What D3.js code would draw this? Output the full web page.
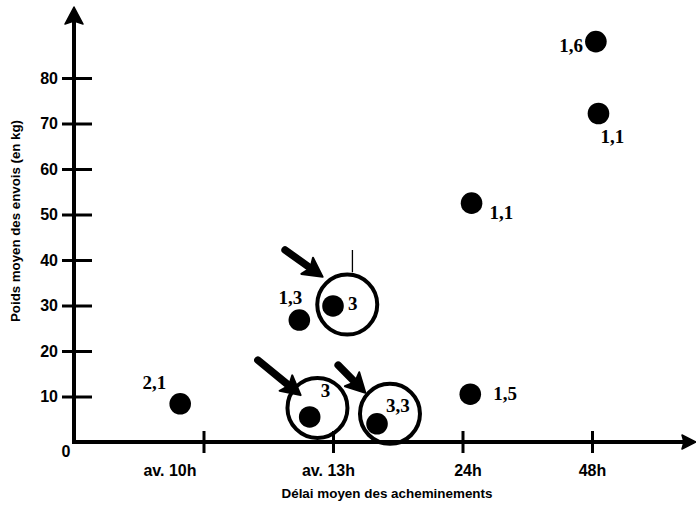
<!DOCTYPE html>
<html>
<head>
<meta charset="utf-8">
<script src="https://cdn.jsdelivr.net/npm/d3@7"></script>
<style>
html, body { margin: 0; padding: 0; background: #fff; }
svg { display: block; }
</style>
</head>
<body>
<svg id="chart" width="696" height="505"></svg>
<script>
// ---------------- DATA ----------------
const delayCategories = ["av. 10h", "av. 13h", "24h", "48h"];
const categoryIndex = [0, 1, 2, 3];
const yTickValues = [10, 20, 30, 40, 50, 60, 70, 80];

// points: position along delay axis (category index units) and mean weight (kg)
const pointDelay  = [-0.18, 0.74, 1.00, 0.82, 1.34, 2.06, 2.07, 3.05, 3.03];
const pointWeight = [8.4, 26.8, 29.9, 5.5, 4.0, 10.5, 52.5, 72.2, 88.0];
const pointLabels = ["2,1", "1,3", "3", "3", "3,3", "1,5", "1,1", "1,1", "1,6"];

// highlighted points: rings and arrows (data units)
const ringDelay  = [1.11, 0.88, 1.44];
const ringWeight = [30.2, 7.5, 6.2];
const arrowFromDelay  = [0.63, 0.42, 1.04];
const arrowFromWeight = [42.2, 18.0, 16.9];
const arrowToDelay    = [0.92, 0.75, 1.25];
const arrowToWeight   = [36.3, 10.3, 10.8];
const penMarkDelay  = [1.15];
const penMarkTop    = [42.2];
const penMarkBottom = [37.3];

const xTitle = "Délai moyen des acheminements";
const yTitle = "Poids moyen des envois (en kg)";

// ---------------- LAYOUT ----------------
const W = 696, H = 505;
const originX = 74, originY = 442;
const svg = d3.select("#chart");
svg.append("rect").attr("width", W).attr("height", H).attr("fill", "#fff");

const x = d3.scaleLinear().domain([-1, 3]).range([originX, 592]);
const y = d3.scaleLinear().domain([0, 80]).range([originY, 78]);

const ink = "#000";
const sansBold = "'Liberation Sans', Arial, sans-serif";
const serifBold = "'Liberation Serif', 'Times New Roman', serif";

// label placement relative to its dot: [dx, dy, anchor]
const labelPlacement = [
  [-14, -15, "end"],
  [-9, -16, "middle"],
  [15, 4, "start"],
  [11, -20, "start"],
  [9, -12, "start"],
  [23, 6, "start"],
  [18, 16, "start"],
  [2, 30, "start"],
  [-13, 10, "end"]
];
const xLabelNudge = [-34, -5, 5, 0];

// ---------------- AXES ----------------
const yAxis = d3.axisLeft(y).tickValues(yTickValues).tickSize(12).tickPadding(4);
const gy = svg.append("g").attr("transform", `translate(${originX},0)`).call(yAxis);
gy.select(".domain").remove();
gy.selectAll(".tick line").attr("x1", -12).attr("x2", 18)
  .attr("stroke", ink).attr("stroke-width", 3);
gy.selectAll(".tick text").attr("font-family", sansBold).attr("font-weight", "bold")
  .attr("font-size", 16).attr("fill", ink).attr("x", -16);

const xAxis = d3.axisBottom(x).tickValues(categoryIndex)
  .tickFormat(i => delayCategories[i]).tickSize(11).tickPadding(12);
const gx = svg.append("g").attr("transform", `translate(0,${originY})`).call(xAxis);
gx.select(".domain").remove();
gx.selectAll(".tick line").attr("y1", -11).attr("y2", 11)
  .attr("stroke", ink).attr("stroke-width", 3);
gx.selectAll(".tick text").attr("font-family", sansBold).attr("font-weight", "bold")
  .attr("font-size", 16).attr("fill", ink)
  .attr("dx", (d, i) => xLabelNudge[i]);

// Axis lines with arrowheads
svg.append("line").attr("x1", originX).attr("y1", originY + 2)
  .attr("x2", originX).attr("y2", 22)
  .attr("stroke", ink).attr("stroke-width", 4);
svg.append("path")
  .attr("d", `M${originX},7 L${originX + 9},24 L${originX},21 L${originX - 9},24 Z`)
  .attr("fill", ink).attr("stroke", ink).attr("stroke-width", 1.5).attr("stroke-linejoin", "round");
svg.append("line").attr("x1", originX - 2).attr("y1", originY)
  .attr("x2", 684).attr("y2", originY)
  .attr("stroke", ink).attr("stroke-width", 4);
svg.append("path")
  .attr("d", `M696,${originY} L682,${originY - 7} L684,${originY} L682,${originY + 7} Z`)
  .attr("fill", ink).attr("stroke", ink).attr("stroke-width", 1.5).attr("stroke-linejoin", "round");

svg.append("text").attr("x", originX - 8).attr("y", originY + 15)
  .attr("text-anchor", "middle")
  .attr("font-family", sansBold).attr("font-weight", "bold").attr("font-size", 16)
  .attr("fill", ink).text("0");

// Axis titles
svg.append("text").attr("x", 387).attr("y", 498).attr("text-anchor", "middle")
  .attr("font-family", sansBold).attr("font-size", 13).attr("font-weight", 600)
  .attr("textLength", 211).attr("lengthAdjust", "spacingAndGlyphs")
  .attr("fill", ink).text(xTitle);
svg.append("text").attr("transform", "translate(20,221) rotate(-90)")
  .attr("text-anchor", "middle")
  .attr("font-family", sansBold).attr("font-size", 13).attr("font-weight", 600)
  .attr("textLength", 202).attr("lengthAdjust", "spacingAndGlyphs")
  .attr("fill", ink).text(yTitle);

// ---------------- MARKS ----------------
const points = pointDelay.map((d, i) => ({ xd: d, yd: pointWeight[i], label: pointLabels[i], p: labelPlacement[i] }));
const rings = ringDelay.map((d, i) => ({ xd: d, yd: ringWeight[i] }));
const arrows = arrowFromDelay.map((d, i) => ({
  x0: x(d), y0: y(arrowFromWeight[i]), x1: x(arrowToDelay[i]), y1: y(arrowToWeight[i])
}));

svg.append("g").selectAll("circle").data(rings).join("circle")
  .attr("cx", d => x(d.xd)).attr("cy", d => y(d.yd)).attr("r", 30)
  .attr("fill", "none").attr("stroke", ink).attr("stroke-width", 4);

svg.append("g").selectAll("line").data(penMarkDelay).join("line")
  .attr("x1", d => x(d)).attr("x2", d => x(d))
  .attr("y1", (d, i) => y(penMarkTop[i])).attr("y2", (d, i) => y(penMarkBottom[i]))
  .attr("stroke", ink).attr("stroke-width", 1.3);

svg.append("g").selectAll("circle").data(points).join("circle")
  .attr("cx", d => x(d.xd)).attr("cy", d => y(d.yd)).attr("r", 10.8)
  .attr("fill", ink);

svg.append("g").selectAll("text").data(points).join("text")
  .attr("x", d => x(d.xd) + d.p[0]).attr("y", d => y(d.yd) + d.p[1])
  .attr("text-anchor", d => d.p[2])
  .attr("font-family", serifBold).attr("font-weight", "bold").attr("font-size", 19)
  .attr("fill", ink).text(d => d.label);

const ga = svg.append("g");
arrows.forEach(a => {
  const dx = a.x1 - a.x0, dy = a.y1 - a.y0;
  const len = Math.hypot(dx, dy);
  const ux = dx / len, uy = dy / len;
  const nx = -uy, ny = ux;
  const headL = 19, headW = 10;
  const bx = a.x1 - ux * headL, by = a.y1 - uy * headL;
  ga.append("line").attr("x1", a.x0).attr("y1", a.y0)
    .attr("x2", bx + ux * 3).attr("y2", by + uy * 3)
    .attr("stroke", ink).attr("stroke-width", 7.5).attr("stroke-linecap", "round");
  const pts = [
    [a.x1, a.y1],
    [bx + nx * headW, by + ny * headW],
    [bx + ux * 4, by + uy * 4],
    [bx - nx * headW, by - ny * headW]
  ];
  ga.append("path").attr("d", d3.line()(pts) + "Z")
    .attr("fill", ink).attr("stroke", ink).attr("stroke-width", 2).attr("stroke-linejoin", "round");
});
</script>
</body>
</html>
